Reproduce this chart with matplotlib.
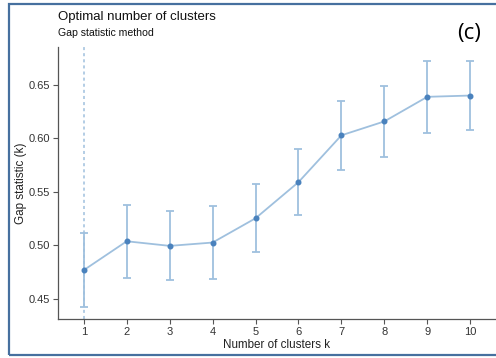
import matplotlib
matplotlib.use("Agg")
import matplotlib.pyplot as plt
from matplotlib.patches import Rectangle

plt.rcParams["font.family"] = ["Liberation Sans", "DejaVu Sans"]

# values
k_values = [1, 2, 3, 4, 5, 6, 7, 8, 9, 10]
gap = [0.4767, 0.5037, 0.4994, 0.5025, 0.5252, 0.559, 0.6028, 0.6158, 0.6388, 0.640]
gap_se = [0.0346, 0.034, 0.0323, 0.0345, 0.0318, 0.031, 0.0325, 0.033, 0.0336, 0.0326]
y_ticks = [0.45, 0.50, 0.55, 0.60, 0.65]
optimal_k = 1

line_col = "#9fc0de"
point_col = "#4a82bd"
axis_col = "#555555"

fig = plt.figure(figsize=(4.96, 3.58), dpi=100)
ax = fig.add_axes([58 / 496, 1 - 319 / 358, 1 - 58 / 496, (319 - 47) / 358])

ax.axvline(optimal_k, color=line_col, lw=1.1, ls=(0, (2, 2)), zorder=1)
ax.errorbar(k_values, gap, yerr=gap_se, color=line_col, lw=1.3,
            elinewidth=1.3, capsize=3, capthick=1.3, zorder=2)
ax.plot(k_values, gap, "o", color=point_col, ms=3.3, zorder=3)

ax.set_xlim(0.4, 10.6)
ax.set_ylim(0.431, 0.6854)
ax.set_xticks(k_values)
ax.set_yticks(y_ticks)
ax.set_yticklabels([f"{v:.2f}" for v in y_ticks])

for s in ["top", "right"]:
    ax.spines[s].set_visible(False)
for s in ["left", "bottom"]:
    ax.spines[s].set_color(axis_col)
    ax.spines[s].set_linewidth(0.9)
ax.tick_params(axis="both", length=3.5, width=0.8, color=axis_col,
               labelsize=8, labelcolor="#333333", pad=2)

ax.set_xlabel("Number of clusters k", fontsize=8.4, color="#222222", labelpad=2)
ax.set_ylabel("Gap statistic (k)", fontsize=8.4, color="#222222", labelpad=1)

fig.text(58 / 496, 1 - 20 / 358, "Optimal number of clusters", fontsize=9.5,
         color="#111111", va="baseline", ha="left")
fig.text(58 / 496, 1 - 36 / 358, "Gap statistic method", fontsize=7.6,
         color="#111111", va="baseline", ha="left")
fig.text(469 / 496, 1 - 34 / 358, "(c)", fontsize=16, family="Open Sans",
         color="black", ha="center", va="center")

# blue frame around the panel (right side cut off in the original)
fig.patches.append(Rectangle((8.5 / 496, 3.5 / 358), 1.0, (354.5 - 3.5) / 358,
                             transform=fig.transFigure, fill=False,
                             edgecolor="#46709f", lw=1.6))

fig.savefig("out.png", dpi=100)
